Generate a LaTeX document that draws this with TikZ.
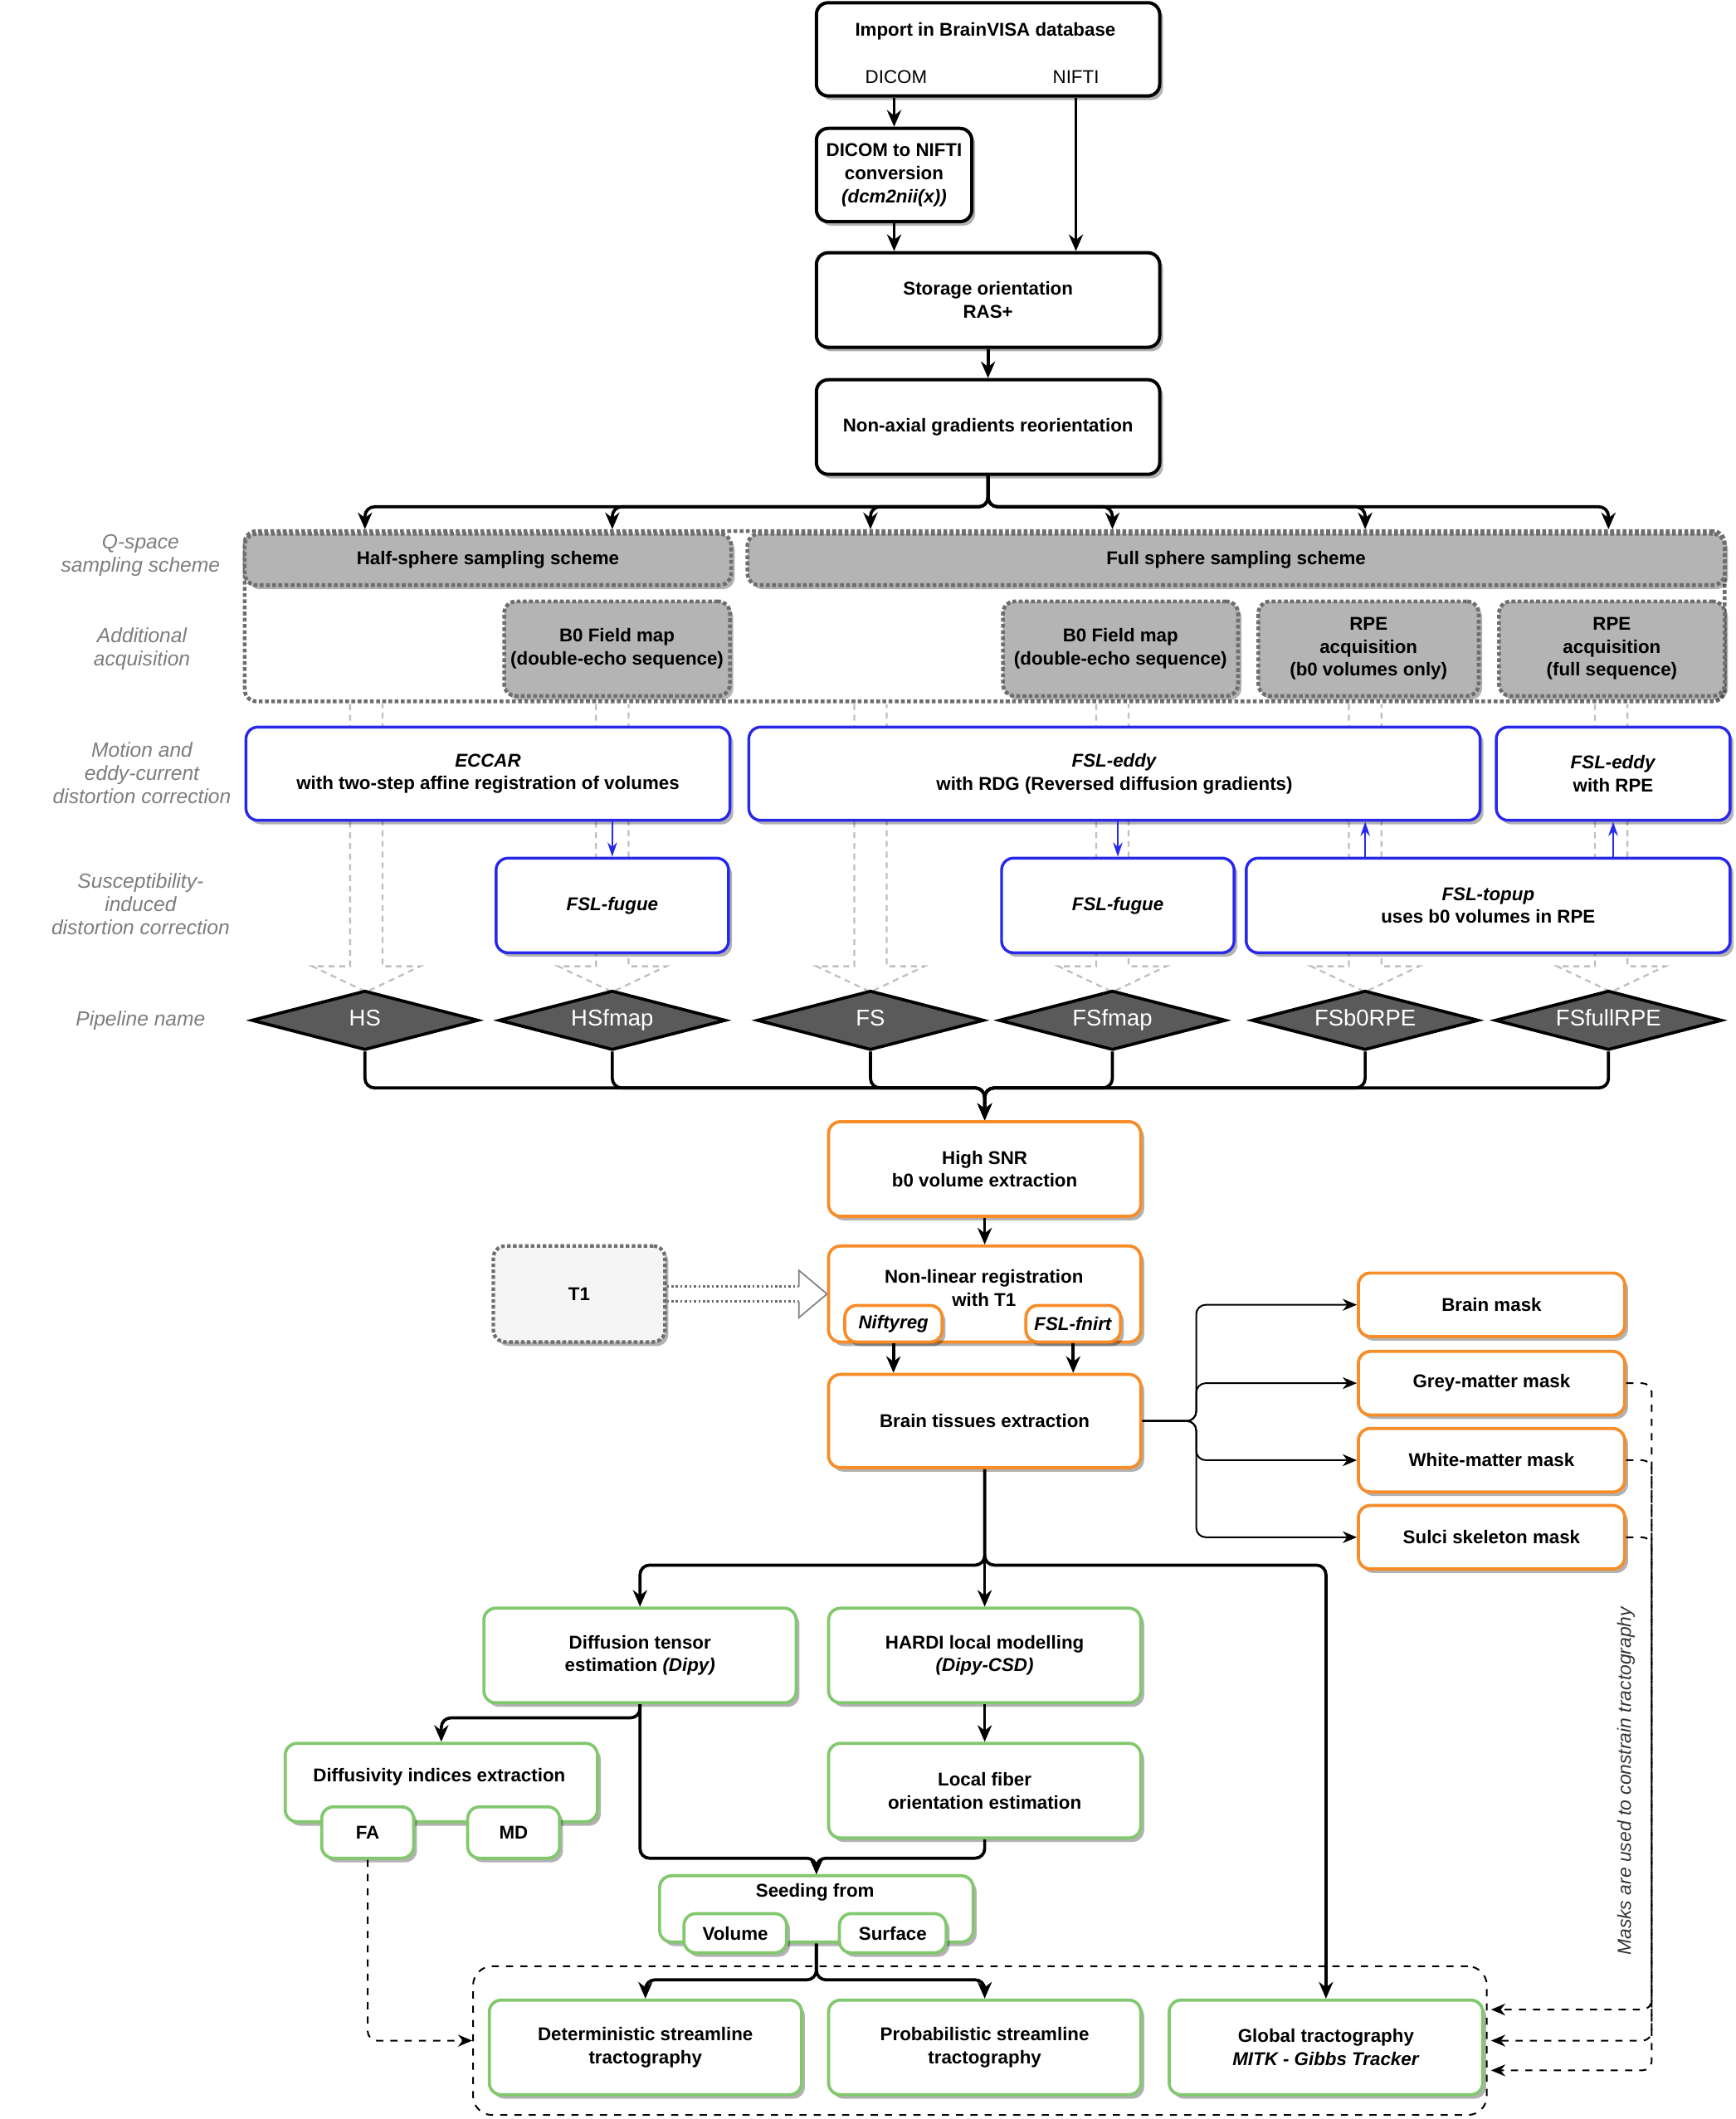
\documentclass[tikz,border=0pt]{standalone}
\usepackage{fontspec}
\setmainfont{Liberation Sans}
\usetikzlibrary{arrows.meta,shapes.geometric,shadows,calc}
\definecolor{orng}{RGB}{247,140,40}
\definecolor{grn}{RGB}{130,200,110}
\definecolor{blu}{RGB}{40,40,235}
\definecolor{gbox}{RGB}{180,180,180}
\definecolor{gdash}{RGB}{110,110,110}
\definecolor{dia}{RGB}{90,90,90}
\definecolor{lbl}{RGB}{125,125,125}
\newcommand{\drawbox}[7]{\node[#1, minimum width={(#5-#3)*0.02cm}, minimum height={(#6-#4)*0.02cm}] (#2) at ({(#3+#5)/2},{(#4+#6)/2}) {#7};}
\newcommand{\ghostarrow}[1]{\draw[ghost] (#1-12,521) -- (#1-12,715) -- (#1-40,715) -- (#1,734) -- (#1+40,715) -- (#1+12,715) -- (#1+12,521);}
\tikzset{
 txt/.style={font=\fontsize{7.8}{9.7}\selectfont\bfseries, align=center, text=black},
 reg/.style={font=\fontsize{7.8}{9.7}\selectfont, align=center, text=black},
 shad/.style={drop shadow={shadow xshift=0.05cm, shadow yshift=-0.06cm, opacity=0.3, fill=black}},
 boxbase/.style={txt, rounded corners=5pt, fill=white, shad, inner sep=0pt},
 bk/.style={boxbase, draw=black, line width=1.4pt},
 gy/.style={boxbase, draw=gdash, densely dotted, line width=1.6pt, fill=gbox},
 cont/.style={draw=gdash, densely dotted, line width=1.6pt, rounded corners=5pt, inner sep=0pt},
 bl/.style={boxbase, draw=blu, line width=1.2pt},
 og/.style={boxbase, draw=orng, line width=1.3pt},
 gn/.style={boxbase, draw=grn, line width=1.3pt},
 dm/.style={diamond, draw=black, line width=1.3pt, fill=dia, inner sep=0pt, minimum width=3.36cm, minimum height=0.88cm},
 dmt/.style={text=white, font=\fontsize{9.6}{11}\selectfont, inner sep=0pt, text height=7pt, text depth=2pt},
 lab/.style={font=\fontsize{8.6}{9.7}\selectfont\itshape, text=lbl, align=center},
 arr/.style={draw=black, line width=1.3pt, -{Stealth[length=7pt,width=6pt]}, rounded corners=4pt},
 tarr/.style={draw=black, line width=0.7pt, -{Stealth[length=6pt,width=5pt]}, rounded corners=4pt},
 barr/.style={draw=blu, line width=0.8pt, -{Stealth[length=6pt,width=4pt]}},
 darr/.style={draw=black, line width=0.7pt, dashed, -{Stealth[length=6pt,width=5pt]}, rounded corners=4pt},
 ghost/.style={draw=gray!50, line width=0.8pt, dash pattern=on 2.5pt off 2pt},
}
\begin{document}
\begin{tikzpicture}[x=0.02cm, y=-0.02cm]
\path[use as bounding box] (0,0) rectangle (1284,1568);

% background containers and ghost arrows
\drawbox{cont}{qcont}{181}{393}{1276}{519}{}
\drawbox{draw=black, line width=0.7pt, dashed, rounded corners=8pt, inner sep=0pt}{tract}{350}{1455}{1100}{1565}{}
\ghostarrow{271}
\ghostarrow{453}
\ghostarrow{644}
\ghostarrow{823}
\ghostarrow{1010}
\ghostarrow{1192}

% top section
\drawbox{bk}{imp}{604}{2}{858}{71}{}
\node[txt] (impt) at (729,23) {Import in BrainVISA database};
\node[reg] (dicom) at (663,57) {DICOM};
\node[reg] (nifti) at (796,57) {NIFTI};
\drawbox{bk}{conv}{604}{95}{719}{164}{DICOM to NIFTI\\conversion\\\textit{(dcm2nii(x))}}
\drawbox{bk}{stor}{604}{187}{858}{257}{Storage orientation\\RAS+}
\drawbox{bk}{nonax}{604}{281}{858}{351}{Non-axial gradients reorientation}

% q-space row
\drawbox{gy}{half}{181}{395}{541}{433}{Half-sphere sampling scheme}
\drawbox{gy}{full}{553}{395}{1276}{433}{Full sphere sampling scheme}
\drawbox{gy}{bzh}{373}{445}{540}{515}{B0 Field map\\(double-echo sequence)}
\drawbox{gy}{bzf}{742}{445}{916}{515}{B0 Field map\\(double-echo sequence)}
\drawbox{gy}{rpea}{931}{445}{1094}{515}{RPE\\acquisition\\(b0 volumes only)}
\drawbox{gy}{rpeb}{1109}{445}{1276}{515}{RPE\\acquisition\\(full sequence)}

% blue rows
\drawbox{bl}{eccar}{182}{538}{540}{607}{\textit{ECCAR}\\with two-step affine registration of volumes}
\drawbox{bl}{eddya}{554}{538}{1095}{607}{\textit{FSL-eddy}\\with RDG (Reversed diffusion gradients)}
\drawbox{bl}{eddyb}{1107}{538}{1280}{607}{\textit{FSL-eddy}\\with RPE}
\drawbox{bl}{fuga}{367}{635}{539}{705}{\textit{FSL-fugue}}
\drawbox{bl}{fugb}{741}{635}{913}{705}{\textit{FSL-fugue}}
\drawbox{bl}{topup}{922}{635}{1280}{705}{\textit{FSL-topup}\\uses b0 volumes in RPE}

% diamonds
\node[dm] (d1) at (270,755) {};
\node[dm] (d2) at (453,755) {};
\node[dm] (d3) at (644,755) {};
\node[dm] (d4) at (823,755) {};
\node[dm] (d5) at (1010,755) {};
\node[dm] (d6) at (1190,755) {};
\node[dmt] (d1t) at (d1) {HS};
\node[dmt] (d2t) at (d2) {HSfmap};
\node[dmt] (d3t) at (d3) {FS};
\node[dmt] (d4t) at (d4) {FSfmap};
\node[dmt] (d5t) at (d5) {FSb0RPE};
\node[dmt] (d6t) at (d6) {FSfullRPE};

% left labels
\node[lab] (l1) at (104,411) {Q-space\\sampling scheme};
\node[lab] (l2) at (105,480) {Additional\\acquisition};
\node[lab] (l3) at (105,572) {Motion and\\eddy-current\\distortion correction};
\node[lab] (l4) at (104,669) {Susceptibility-\\induced\\distortion correction};
\node[lab] (l5) at (104,755) {Pipeline name};

% orange section
\drawbox{og}{snr}{613}{830}{844}{900}{High SNR\\b0 volume extraction}
\drawbox{og}{nlr}{613}{922}{844}{993}{}
\node[txt] (nlrt) at (728,953) {Non-linear registration\\with T1};
\drawbox{og}{nifty}{625}{966}{697}{993}{\textit{Niftyreg}}
\drawbox{og}{fnirt}{759}{966}{829}{993}{\textit{FSL-fnirt}}
\drawbox{boxbase, draw=gdash, densely dotted, line width=1.5pt, fill=gray!8}{tone}{365}{922}{492}{993}{T1}
\drawbox{og}{tissue}{613}{1017}{844}{1086}{Brain tissues extraction}
\drawbox{og}{bm}{1005}{942}{1202}{989}{Brain mask}
\drawbox{og}{gm}{1005}{1000}{1202}{1047}{Grey-matter mask}
\drawbox{og}{wm}{1005}{1057}{1202}{1104}{White-matter mask}
\drawbox{og}{sm}{1005}{1114}{1202}{1161}{Sulci skeleton mask}
\node[font=\fontsize{8}{9.7}\selectfont\itshape, text=black!80, rotate=90] (masktxt) at (1203,1318) {Masks are used to constrain tractography};

% green section
\drawbox{gn}{dti}{358}{1190}{589}{1260}{Diffusion tensor\\estimation \textit{(Dipy)}}
\drawbox{gn}{hardi}{613}{1190}{844}{1260}{HARDI local modelling\\\textit{(Dipy-CSD)}}
\drawbox{gn}{lfo}{613}{1290}{844}{1360}{Local fiber\\orientation estimation}
\drawbox{gn}{diff}{211}{1290}{442}{1348}{}
\node[txt] (difft) at (325,1315) {Diffusivity indices extraction};
\drawbox{gn}{fa}{238}{1337}{306}{1375}{FA}
\drawbox{gn}{md}{346}{1337}{414}{1375}{MD}
\drawbox{gn}{seed}{488}{1388}{720}{1437}{}
\node[txt] (seedt) at (603,1400) {Seeding from};
\drawbox{gn}{vol}{506}{1416}{582}{1445}{Volume}
\drawbox{gn}{surf}{621}{1416}{700}{1445}{Surface}
\drawbox{gn}{det}{362}{1480}{593}{1550}{Deterministic streamline\\tractography}
\drawbox{gn}{prob}{613}{1480}{844}{1550}{Probabilistic streamline\\tractography}
\drawbox{gn}{glob}{865}{1480}{1097}{1550}{Global tractography\\\textit{MITK - Gibbs Tracker}}

% connectors top
\draw[arr] (imp.south -| conv.north) -- (conv.north);
\draw[arr] (imp.south -| nifti) -- (stor.north -| nifti);
\draw[arr] (conv.south) -- (stor.north -| conv.south);
\draw[arr] (stor.south) -- (nonax.north);
\coordinate (busa) at (731,375);
\draw[arr] (nonax.south) -- (busa) -| (qcont.north -| d1);
\draw[arr] (nonax.south) -- (busa) -| (qcont.north -| d2);
\draw[arr] (nonax.south) -- (busa) -| (qcont.north -| d3);
\draw[arr] (nonax.south) -- (busa) -| (qcont.north -| d4);
\draw[arr] (nonax.south) -- (busa) -| (qcont.north -| d5);
\draw[arr] (nonax.south) -- (busa) -| (qcont.north -| d6);

% blue connectors
\draw[barr] (eccar.south -| fuga.north) -- (fuga.north);
\draw[barr] (eddya.south -| fugb.north) -- (fugb.north);
\draw[barr] (topup.north -| d5) -- (eddya.south -| d5);
\draw[barr] (topup.north -| eddyb.south) -- (eddyb.south);

% join to high SNR
\coordinate (busb) at (728.5,805);
\draw[arr] (d1.south) |- (busb) -- (snr.north);
\draw[arr] (d2.south) |- (busb) -- (snr.north);
\draw[arr] (d3.south) |- (busb) -- (snr.north);
\draw[arr] (d4.south) |- (busb) -- (snr.north);
\draw[arr] (d5.south) |- (busb) -- (snr.north);
\draw[arr] (d6.south) |- (busb) -- (snr.north);

% orange connectors
\draw[arr] (snr.south) -- (nlr.north);
\draw[arr] (nifty.south) -- (tissue.north -| nifty.south);
\draw[arr] (fnirt.south) -- (tissue.north -| fnirt.south);
\draw[gdash, densely dotted, line width=0.9pt] (tone.east |- 0,952) -- (591,952);
\draw[gdash, densely dotted, line width=0.9pt] (tone.east |- 0,963) -- (591,963);
\draw[gray, line width=0.6pt, fill=white] (591,952) -- (591,940) -- (nlr.west |- 0,957.5) -- (591,975) -- (591,963);
\coordinate (mj) at (885,1051.5);
\draw[tarr] (tissue.east) -- (mj) |- (bm.west);
\draw[tarr] (tissue.east) -- (mj) |- (gm.west);
\draw[tarr] (tissue.east) -- (mj) |- (wm.west);
\draw[tarr] (tissue.east) -- (mj) |- (sm.west);
\coordinate (vx) at (1222,0);
\draw[darr] (gm.east) -- (gm.east -| vx) |- ([shift={(5,-28)}]glob.east);
\draw[darr] (wm.east) -- (wm.east -| vx) |- ([shift={(5,-5)}]glob.east);
\draw[darr] (sm.east) -- (sm.east -| vx) |- ([shift={(5,17)}]glob.east);

% green connectors
\coordinate (tb) at ($(tissue.south)+(0,71)$);
\draw[arr] (tissue.south) -- (hardi.north);
\draw[arr] (tissue.south) -- (tb) -| (dti.north);
\draw[arr] (tissue.south) -- (tb) -| (glob.north);
\draw[arr] (hardi.south) -- (lfo.north);
\draw[arr] (dti.south) -- ++(0,10) -| (diff.north);
\coordinate (sj) at (604,1375);
\draw[arr] (dti.south) |- (sj) -- (seed.north);
\draw[arr] (lfo.south) |- (sj) -- (seed.north);
\coordinate (dj) at (604,1465);
\draw[arr] (seed.south) -- (dj) -| (det.north);
\draw[arr] (seed.south) -- (dj) -| (prob.north);
\draw[darr] (fa.south) |- (tract.west);
\end{tikzpicture}
\end{document}
